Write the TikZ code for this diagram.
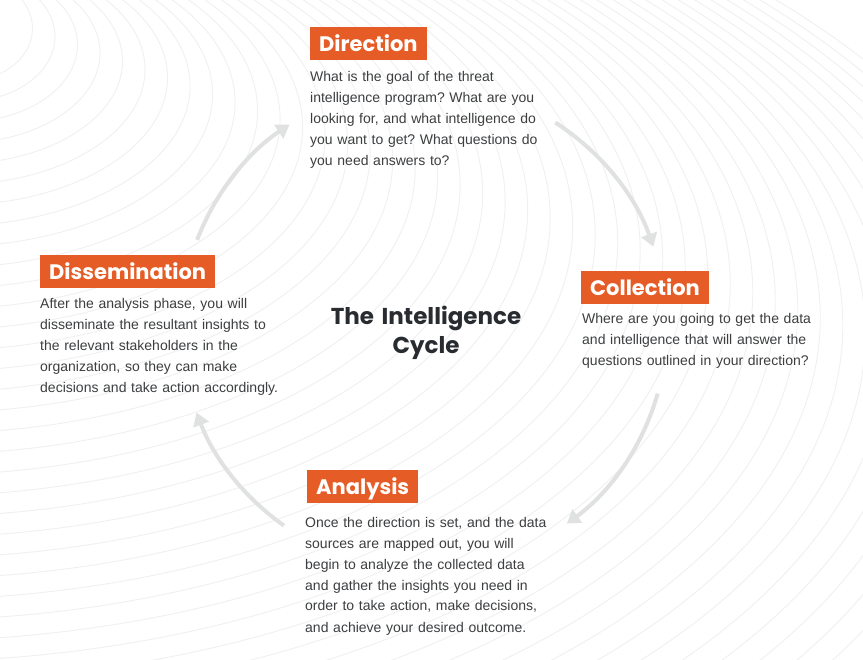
\documentclass[tikz,border=0pt]{standalone}
\usepackage{fontspec}
\setmainfont{Liberation Sans}
\newfontfamily\headfont{Poppins}
\usetikzlibrary{arrows.meta,calc}
\definecolor{brandorange}{RGB}{230,92,38}
\definecolor{bodytext}{RGB}{60,62,64}
\definecolor{titletext}{RGB}{40,44,48}
\definecolor{arrowgray}{RGB}{224,226,226}
\definecolor{bgline}{RGB}{240,240,240}
\frenchspacing
\begin{document}
\begin{tikzpicture}[x=1pt,y=-1pt,
  header/.style={fill=brandorange, text=white, font=\headfont\bfseries\fontsize{21}{24}\selectfont,
    inner xsep=9pt, inner ysep=0pt, text height=15pt, text depth=0pt, minimum height=33pt, anchor=north west},
  body/.style={text=bodytext, font=\fontsize{14}{21}\selectfont, align=left, text width=290pt,
    inner sep=0pt, anchor=base west},
  titlestyle/.style={text=titletext, font=\headfont\bfseries\fontsize{23}{29}\selectfont, align=center,
    text width=260pt, inner sep=0pt, anchor=base},
  cyclearrow/.style={draw=arrowgray, line width=4pt, -{Triangle[width=16pt,length=13pt]}},
  bgcurve/.style={draw=bgline, line width=0.9pt}]

\fill[white] (0,0) rectangle (863,660);
\useasboundingbox (0,0) rectangle (863,660);

% faint background waves
\begin{scope}
\clip (0,0) rectangle (863,660);
\foreach \s in {0.025,0.05,...,1.18}{
  \pgfmathsetmacro\cx{-30-100*\s}
  \pgfmathsetmacro\cy{20+330*\s}
  \pgfmathsetmacro\ra{40+1000*\s}
  \pgfmathsetmacro\rb{40+500*\s}
  \draw[bgcurve] (\cx,\cy) ellipse[x radius=\ra, y radius=\rb];
}
\end{scope}

% cycle arrows
\coordinate (c) at (424,327);
\coordinate (a1s) at ($(c)+(201:243)$);
\coordinate (a2s) at ($(c)+(302.7:243)$);
\coordinate (a3s) at ($(c)+(15.9:243)$);
\coordinate (a4s) at ($(c)+(125.2:243)$);
\draw[cyclearrow] (a1s) arc[start angle=201, end angle=236.4, radius=243];
\draw[cyclearrow] (a2s) arc[start angle=302.7, end angle=340.7, radius=243];
\draw[cyclearrow] (a3s) arc[start angle=15.9, end angle=54, radius=243];
\draw[cyclearrow] (a4s) arc[start angle=125.2, end angle=159.4, radius=243];

% title
\node[titlestyle] (title) at (426,325) {The Intelligence\\Cycle};

% Direction
\node[header] (dirh) at (310,27) {Direction};
\node[body] (dirb) at (310,82) {What is the goal of the threat\\
intelligence program? What are you\\
looking for, and what intelligence do\\
you want to get? What questions do\\
you need answers to?};

% Collection
\node[header] (colh) at (581,271) {Collection};
\node[body] (colb) at (582,324) {Where are you going to get the data\\
and intelligence that will answer the\\
questions outlined in your direction?};

% Dissemination
\node[header] (dish) at (40,255) {Dissemination};
\node[body] (disb) at (40,309) {After the analysis phase, you will\\
disseminate the resultant insights to\\
the relevant stakeholders in the\\
organization, so they can make\\
decisions and take action accordingly.};

% Analysis
\node[header] (anah) at (307,470) {Analysis};
\node[body] (anab) at (305,527) {Once the direction is set, and the data\\
sources are mapped out, you will\\
begin to analyze the collected data\\
and gather the insights you need in\\
order to take action, make decisions,\\
and achieve your desired outcome.};
\end{tikzpicture}
\end{document}
